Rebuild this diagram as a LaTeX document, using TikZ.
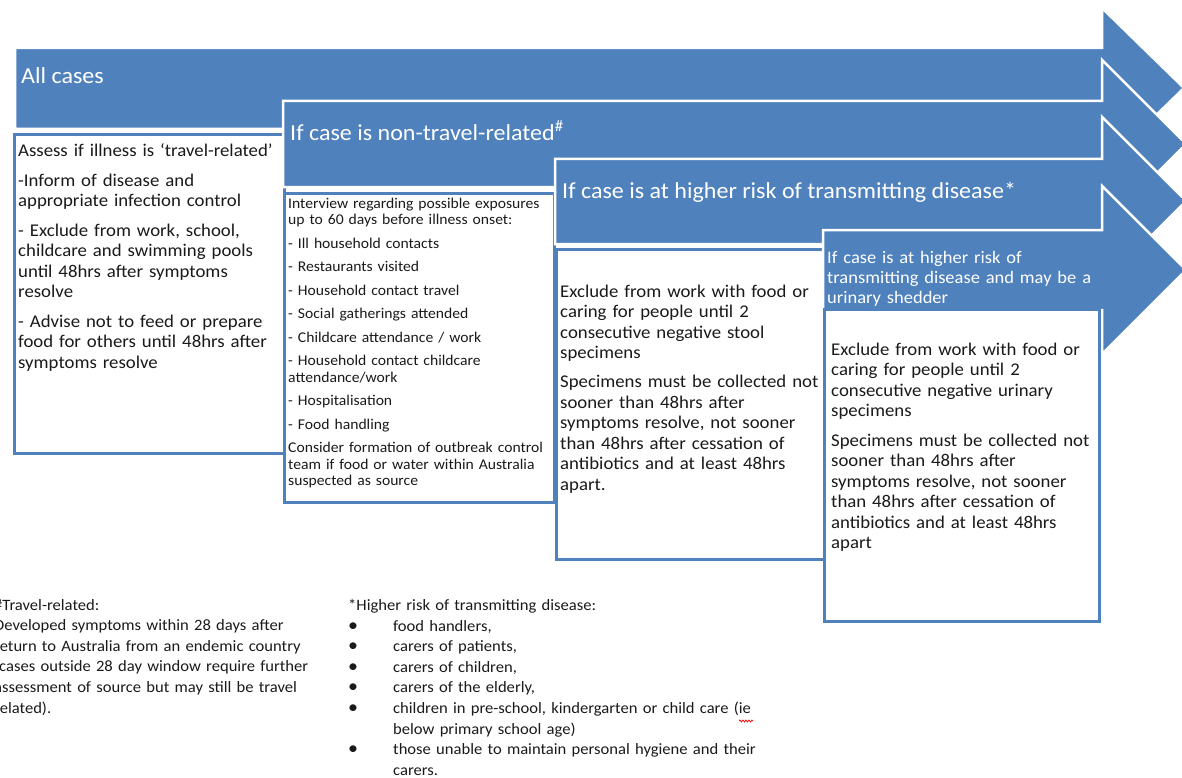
\documentclass[tikz,border=0pt]{standalone}
\usepackage{fontspec}
\setmainfont{Carlito}[FakeStretch=1.05]
\usetikzlibrary{decorations.pathmorphing}
\definecolor{pblue}{HTML}{4F81BD}
\definecolor{txt}{HTML}{1A1A1A}
\begin{document}
\begin{tikzpicture}[x=1pt,y=-1pt,
  procarrow/.style={fill=pblue, draw=white, line width=2.5pt, line join=miter},
  infobox/.style={rectangle, draw=pblue, fill=white, line width=3pt, inner sep=0pt, anchor=north west},
  arrowlabel/.style={text=white, anchor=base west, inner sep=0pt, font=\fontsize{22.9}{27}\selectfont},
  smalllabel/.style={text=white, anchor=base west, inner sep=0pt, align=left, text width=300pt, font=\fontsize{17.6}{20}\selectfont},
  boxtext/.style={text=txt, anchor=base west, inner sep=0pt, align=left, text width=320pt, font=\fontsize{17.9}{20.5}\selectfont},
  smalltext/.style={text=txt, anchor=base west, inner sep=0pt, align=left, text width=320pt, font=\fontsize{14.9}{16.5}\selectfont},
  foottext/.style={text=txt, anchor=base west, inner sep=0pt, align=left, text width=420pt, font=\fontsize{15.8}{20.6}\selectfont}
]
\useasboundingbox (0,0) rectangle (1182,778);
\clip (0,0) rectangle (1182,778);

% arrow 1
\draw[procarrow] (15,48) -- (1102,48) -- (1102,8) -- (1184,88) -- (1102,168) -- (1102,129) -- (15,129) -- cycle;
\node[arrowlabel] (l1) at (21,84) {All cases};
\node[infobox, minimum width=270pt, minimum height=319pt] (box1) at (13,133) {};
\node[boxtext] (t1) at (18,157) {Assess if illness is ‘travel-related’\\[9pt]
-Inform of disease and\\ appropriate infection control\\[9pt]
- Exclude from work, school,\\ childcare and swimming pools\\ until 48hrs after symptoms\\ resolve\\[9pt]
- Advise not to feed or prepare\\ food for others until 48hrs after\\ symptoms resolve};

% arrow 2
\draw[procarrow] (283,101) -- (1102,101) -- (1102,60) -- (1186,144) -- (1102,228) -- (1102,187) -- (283,187) -- cycle;
\node[arrowlabel] (l2) at (290,141) {If case is non-travel-related\textsuperscript{\#}};
\node[infobox, minimum width=270pt, minimum height=309pt] (box2) at (283,192) {};
\node[smalltext] (t2) at (288,208) {Interview regarding possible exposures\\ up to 60 days before illness onset:\\[7pt]
- Ill household contacts\\[7pt]
- Restaurants visited\\[7pt]
- Household contact travel\\[7pt]
- Social gatherings attended\\[7pt]
- Childcare attendance / work\\[7pt]
- Household contact childcare\\ attendance/work\\[7pt]
- Hospitalisation\\[7pt]
- Food handling\\[7pt]
Consider formation of outbreak control\\ team if food or water within Australia\\ suspected as source};

% arrow 3
\draw[procarrow] (555,159) -- (1102,159) -- (1102,117) -- (1186,201) -- (1102,285) -- (1102,244) -- (555,244) -- cycle;
\node[arrowlabel] (l3) at (562,198) {If case is at higher risk of transmitting disease*};
\node[infobox, minimum width=268pt, minimum height=310pt] (box3) at (555,248) {};
\node[boxtext] (t3) at (560,297) {Exclude from work with food or\\ caring for people until 2\\ consecutive negative stool\\ specimens\\[8.5pt]
Specimens must be collected not\\ sooner than 48hrs after\\ symptoms resolve, not sooner\\ than 48hrs after cessation of\\ antibiotics and at least 48hrs\\ apart.};

% arrow 4
\draw[procarrow] (823,230) -- (1102,230) -- (1102,186) -- (1186,270) -- (1102,354) -- (1102,310) -- (823,310) -- cycle;
\node[smalllabel] (l4) at (827,263) {If case is at higher risk of\\ transmitting disease and may be a\\ urinary shedder};
\node[infobox, minimum width=275pt, minimum height=312pt] (box4) at (823,308) {};
\node[boxtext] (t4) at (831,355) {Exclude from work with food or\\ caring for people until 2\\ consecutive negative urinary\\ specimens\\[9pt]
Specimens must be collected not\\ sooner than 48hrs after\\ symptoms resolve, not sooner\\ than 48hrs after cessation of\\ antibiotics and at least 48hrs\\ apart};

% footnotes
\node[foottext] (f1) at (-6,610) {\#Travel-related:\\ Developed symptoms within 28 days after\\ return to Australia from an endemic country\\ (cases outside 28 day window require further\\ assessment of source but may still be travel\\ related).};
\node[foottext] (f2) at (348,610) {*Higher risk of transmitting disease:};
\node[foottext, text width=20pt, font=\fontsize{19}{20.6}\selectfont] (f2b) at (348,631) {•\\ •\\ •\\ •\\ •\\ \mbox{}\\ •};
\node[foottext] (f2i) at (393,631) {food handlers,\\ carers of patients,\\ carers of children,\\ carers of the elderly,\\ children in pre-school, kindergarten or child care (ie\\ below primary school age)\\ those unable to maintain personal hygiene and their\\ carers.};
\coordinate (w1) at (739,721);
\coordinate (w2) at (753,721);
\draw[red, line width=0.7pt, decorate, decoration={snake, amplitude=1pt, segment length=3pt}] (w1) -- (w2);
\end{tikzpicture}
\end{document}
